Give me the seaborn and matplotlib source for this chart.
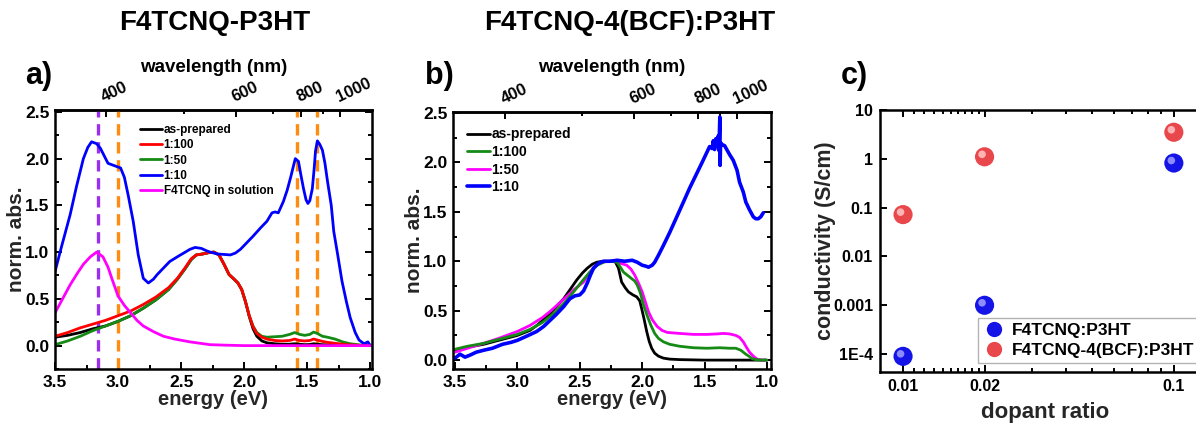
import numpy as np
import pandas as pd
import matplotlib
matplotlib.use("Agg")
import matplotlib.pyplot as plt
import matplotlib.transforms as mtransforms
from matplotlib.lines import Line2D
from matplotlib.ticker import MultipleLocator, FixedLocator, FormatStrFormatter, NullFormatter
import seaborn as sns

# ---------------- panel a: F4TCNQ-P3HT ----------------
a_blue_E = [3.50, 3.45, 3.38, 3.33, 3.275, 3.24, 3.21, 3.17, 3.14, 3.08, 3.04, 2.98, 2.95, 2.92,
            2.88, 2.84, 2.80, 2.76, 2.72, 2.69, 2.64, 2.59, 2.53, 2.48, 2.43, 2.39, 2.34, 2.30,
            2.27, 2.21, 2.16, 2.11, 2.07, 2.03, 1.98, 1.93, 1.87, 1.82, 1.78, 1.755, 1.73, 1.69,
            1.66, 1.63, 1.61, 1.595, 1.57, 1.55, 1.53, 1.51, 1.495, 1.48, 1.46, 1.445, 1.435,
            1.42, 1.40, 1.38, 1.36, 1.34, 1.31, 1.29, 1.26, 1.225, 1.19, 1.16, 1.12, 1.09, 1.05,
            1.02, 1.00]
a_blue_A = [0.79, 1.05, 1.40, 1.70, 2.00, 2.12, 2.18, 2.16, 2.11, 1.95, 1.93, 1.90, 1.80, 1.61,
            1.33, 0.97, 0.72, 0.67, 0.71, 0.76, 0.83, 0.90, 0.95, 0.99, 1.03, 1.05, 1.04, 1.015,
            1.00, 0.98, 0.975, 0.97, 0.99, 1.03, 1.10, 1.17, 1.26, 1.33, 1.42, 1.43, 1.42, 1.54,
            1.66, 1.81, 1.92, 2.00, 1.97, 1.82, 1.68, 1.56, 1.52, 1.55, 1.68, 1.90, 2.08,
            2.19, 2.15, 2.09, 1.95, 1.76, 1.50, 1.22, 0.98, 0.69, 0.47, 0.30, 0.14, 0.06, 0.02,
            0.04, 0.00]

a_film_E = [3.50, 3.40, 3.30, 3.20, 3.10, 3.00, 2.90, 2.80, 2.70, 2.60, 2.53, 2.47, 2.42, 2.38,
            2.33, 2.28, 2.24, 2.20, 2.16, 2.12, 2.08, 2.05, 2.02, 1.99, 1.96, 1.93, 1.90, 1.86,
            1.82, 1.76, 1.70, 1.64, 1.60, 1.56, 1.52, 1.48, 1.45, 1.42, 1.38, 1.34, 1.28, 1.22,
            1.16, 1.10, 1.05, 1.00]
a_black_A = [0.09, 0.11, 0.14, 0.18, 0.21, 0.26, 0.32, 0.40, 0.49, 0.60, 0.71, 0.82, 0.92, 0.97,
             0.98, 0.995, 1.00, 0.97, 0.87, 0.76, 0.71, 0.67, 0.60, 0.47, 0.31, 0.18, 0.10, 0.05,
             0.03, 0.02, 0.015, 0.015, 0.02, 0.015, 0.01, 0.012, 0.02, 0.015, 0.01, 0.008, 0.005,
             0.003, 0.002, 0.001, 0.0, 0.0]
a_red_A = [0.10, 0.14, 0.19, 0.23, 0.27, 0.32, 0.37, 0.44, 0.52, 0.62, 0.72, 0.83, 0.93, 0.97,
           0.98, 0.995, 1.00, 0.97, 0.87, 0.76, 0.71, 0.67, 0.60, 0.47, 0.32, 0.20, 0.13, 0.09,
           0.07, 0.055, 0.05, 0.055, 0.07, 0.055, 0.05, 0.055, 0.07, 0.06, 0.045, 0.035, 0.025,
           0.015, 0.008, 0.004, 0.001, 0.0]
a_green_A = [0.01, 0.05, 0.10, 0.16, 0.21, 0.26, 0.32, 0.40, 0.49, 0.60, 0.71, 0.82, 0.92, 0.97,
             0.98, 0.995, 1.00, 0.97, 0.87, 0.76, 0.71, 0.67, 0.60, 0.47, 0.32, 0.21, 0.14, 0.10,
             0.09, 0.095, 0.10, 0.12, 0.14, 0.12, 0.11, 0.12, 0.145, 0.13, 0.10, 0.09, 0.07, 0.04,
             0.02, 0.01, 0.003, 0.0]

a_sol_E = [3.50, 3.44, 3.38, 3.32, 3.275, 3.22, 3.17, 3.12, 3.08, 3.05, 3.00, 2.95, 2.90, 2.85,
           2.80, 2.72, 2.64, 2.55, 2.43, 2.35, 2.27, 2.15, 2.00, 1.80, 1.50, 1.20, 1.00]
a_sol_A = [0.35, 0.50, 0.65, 0.78, 0.87, 0.95, 1.00, 0.95, 0.84, 0.72, 0.53, 0.43, 0.35, 0.27,
           0.21, 0.15, 0.10, 0.07, 0.04, 0.025, 0.01, 0.005, 0.0, 0.0, 0.0, 0.0, 0.0]

a_guide_E = [3.16, 3.00, 1.58, 1.42]
a_guide_colors = ['#9a30ee', '#ff8c0f', '#ff8c0f', '#ff8c0f']

# ---------------- panel b: F4TCNQ-4(BCF):P3HT ----------------
b_black_E = [3.50, 3.40, 3.27, 3.15, 3.00, 2.90, 2.845, 2.79, 2.74, 2.68, 2.63, 2.58, 2.525, 2.48,
             2.44, 2.40, 2.365, 2.32, 2.285, 2.25, 2.218, 2.19, 2.165, 2.135, 2.11, 2.075, 2.044,
             2.02, 2.004, 1.984, 1.964, 1.944, 1.924, 1.90, 1.87, 1.83, 1.78, 1.70, 1.50, 1.30,
             1.10, 1.00]
b_black_A = [0.10, 0.13, 0.16, 0.20, 0.25, 0.30, 0.35, 0.41, 0.47, 0.55, 0.62, 0.71, 0.81, 0.88,
             0.93, 0.97, 0.99, 1.00, 1.00, 1.00, 1.00, 0.93, 0.79, 0.73, 0.69, 0.66, 0.64,
             0.60, 0.52, 0.41, 0.29, 0.19, 0.12, 0.07, 0.04, 0.02, 0.01, 0.005, 0.0, 0.0,
             0.0, 0.0]

b_green_E = [3.50, 3.40, 3.27, 3.15, 3.00, 2.90, 2.80, 2.70, 2.63, 2.55, 2.48, 2.42, 2.36, 2.30,
             2.25, 2.20, 2.17, 2.15, 2.12, 2.09, 2.06, 2.04, 2.015, 1.99, 1.96, 1.93, 1.90, 1.87,
             1.83, 1.78, 1.70, 1.59, 1.48, 1.38, 1.30, 1.25, 1.21, 1.17, 1.145, 1.12, 1.09, 1.05,
             1.00]
b_green_A = [0.11, 0.14, 0.17, 0.21, 0.26, 0.31, 0.38, 0.48, 0.57, 0.69, 0.80, 0.89, 0.96, 0.995,
             1.00, 0.99, 0.93, 0.89, 0.86, 0.83, 0.80, 0.76, 0.68, 0.56, 0.45, 0.35, 0.27, 0.22,
             0.185, 0.16, 0.14, 0.125, 0.12, 0.125, 0.12, 0.12, 0.10, 0.06, 0.04, 0.015, 0.005, 0.0,
             0.0]

b_pink_E = [3.50, 3.40, 3.27, 3.15, 3.00, 2.90, 2.80, 2.74, 2.67, 2.60, 2.54, 2.50, 2.47, 2.43,
            2.38, 2.33, 2.28, 2.24, 2.20, 2.15, 2.124, 2.09, 2.06, 2.03, 2.00, 1.975, 1.95, 1.92,
            1.88, 1.84, 1.80, 1.70, 1.59, 1.48, 1.40, 1.35, 1.30, 1.25, 1.22, 1.19, 1.165, 1.14,
            1.11, 1.08, 1.04, 1.01]
b_pink_A = [0.08, 0.12, 0.17, 0.22, 0.29, 0.35, 0.43, 0.49, 0.57, 0.65, 0.72, 0.76, 0.79, 0.87,
            0.95, 0.99, 1.00, 1.00, 0.99, 0.97, 0.96, 0.92, 0.86, 0.78, 0.69, 0.59, 0.49, 0.41,
            0.34, 0.30, 0.28, 0.27, 0.26, 0.26, 0.265, 0.27, 0.265, 0.25, 0.23, 0.185, 0.13, 0.08,
            0.04, 0.01, 0.0, 0.0]

b_blue_E = [3.50, 3.46, 3.42, 3.38, 3.33, 3.27, 3.20, 3.12, 3.05, 3.00, 2.93, 2.845, 2.79, 2.74,
            2.69, 2.63, 2.58, 2.54, 2.50, 2.47, 2.44, 2.415, 2.39, 2.35, 2.31, 2.26, 2.20, 2.14,
            2.08, 2.04, 2.00, 1.97, 1.95, 1.92, 1.90, 1.87, 1.83, 1.78, 1.73, 1.68, 1.62, 1.57,
            1.52, 1.49, 1.46, 1.44, 1.43, 1.42, 1.41, 1.40, 1.39, 1.385, 1.378, 1.376, 1.372,
            1.36, 1.34, 1.30, 1.27, 1.24, 1.22, 1.19, 1.17, 1.14, 1.11, 1.09, 1.07, 1.05, 1.03]
b_blue_A = [0.02, 0.06, 0.03, 0.05, 0.08, 0.10, 0.12, 0.16, 0.18, 0.20, 0.24, 0.29, 0.34, 0.40,
            0.46, 0.54, 0.62, 0.65, 0.66, 0.70, 0.78, 0.86, 0.93, 0.98, 1.00, 1.00, 1.01, 1.00,
            1.01, 0.99, 0.96, 0.95, 0.94, 0.96, 0.99, 1.06, 1.16, 1.29, 1.43, 1.57, 1.74, 1.87,
            2.00, 2.08, 2.16, 2.14, 2.22, 2.13, 2.24, 2.17, 2.27, 2.12, 2.46, 1.97, 2.20,
            2.18, 2.17, 2.08, 2.02, 1.92, 1.80, 1.70, 1.60, 1.52, 1.45, 1.43, 1.43, 1.45, 1.49]

# ---------------- panel c: conductivity ----------------
c_ratio = [0.01, 0.02, 0.1]
c_sigma_f4 = [9.0e-5, 1.0e-3, 0.82]
c_sigma_bcf = [0.072, 1.1, 3.5]
c_yticks = [1e-4, 1e-3, 1e-2, 1e-1, 1, 10]
c_ylabels = ['1E-4', '0.001', '0.01', '0.1', '1', '10']
c_xticks = [0.01, 0.02, 0.1]
c_xlabels = ['0.01', '0.02', '0.1']

wl_ticks = [400, 600, 800, 1000]
wl_minor = [500, 700, 900]

# ---------------- style ----------------
sns.set_theme(style="ticks")
plt.rcParams['font.family'] = ['Liberation Sans', 'DejaVu Sans']
plt.rcParams['font.weight'] = 'bold'
plt.rcParams['axes.labelweight'] = 'bold'
plt.rcParams['axes.linewidth'] = 1.8
plt.rcParams['axes.edgecolor'] = 'black'
plt.rcParams['text.color'] = 'black'
plt.rcParams['xtick.color'] = 'black'
plt.rcParams['ytick.color'] = 'black'

W, H = 1196, 425
fig = plt.figure(figsize=(W / 100, H / 100), dpi=100)


def px_axes(left, top, right, bottom):
    return fig.add_axes([left / W, 1 - bottom / H, (right - left) / W, (bottom - top) / H])


def e2nm(x):
    x = np.asarray(x, dtype=float)
    with np.errstate(divide='ignore', invalid='ignore'):
        return 1239.84 / x


def curve(ax, E, A, color, label, lw=2.0):
    df = pd.DataFrame({'energy': E, 'absorb': A})
    sns.lineplot(data=df, x='energy', y='absorb', color=color, linewidth=lw,
                 sort=False, estimator=None, label=label, ax=ax, legend=False)


def style_spectrum(ax, xlim, ylim):
    ax.set_xlim(*xlim)
    ax.set_ylim(*ylim)
    ax.xaxis.set_major_locator(MultipleLocator(0.5))
    ax.xaxis.set_minor_locator(MultipleLocator(0.25))
    ax.yaxis.set_major_locator(MultipleLocator(0.5))
    ax.yaxis.set_minor_locator(MultipleLocator(0.25))
    ax.xaxis.set_major_formatter(FormatStrFormatter('%.1f'))
    ax.yaxis.set_major_formatter(FormatStrFormatter('%.1f'))
    ax.tick_params(which='both', direction='in', right=True, top=False, width=1.4, labelsize=12.5)
    ax.tick_params(which='major', length=5, pad=4)
    ax.tick_params(which='minor', length=3)
    ax.set_xlabel('energy (eV)', fontsize=14.5, labelpad=0)
    ax.set_ylabel('norm. abs.', fontsize=15, labelpad=-1)
    sec = ax.secondary_xaxis('top', functions=(e2nm, e2nm))
    sec.set_xticks(wl_ticks)
    sec.xaxis.set_minor_locator(FixedLocator(wl_minor))
    sec.xaxis.set_minor_formatter(NullFormatter())
    sec.tick_params(which='both', direction='in', width=1.4, labelsize=12, pad=4)
    sec.tick_params(which='major', length=5)
    sec.tick_params(which='minor', length=3)
    plt.setp(sec.get_xticklabels(), rotation=25, ha='left', rotation_mode='anchor')
    # axis title of the wavelength scale, placed above the rotated tick labels
    pos = ax.get_position()
    fig.text(pos.x0 + pos.width / 2, 1 - 68 / H, 'wavelength (nm)', ha='center', va='center',
             fontsize=13.5)
    return sec


# ---------------- panel a ----------------
ax_a = px_axes(55, 110, 372, 369)
for e, col in zip(a_guide_E, a_guide_colors):
    ax_a.axvline(e, color=col, lw=2.4, ls=(0, (3.4, 2.0)), zorder=1)
curve(ax_a, a_film_E, a_black_A, 'black', 'as-prepared')
curve(ax_a, a_film_E, a_green_A, '#158a15', '1:50')
curve(ax_a, a_film_E, a_red_A, '#ff0000', '1:100')
curve(ax_a, a_blue_E, a_blue_A, '#0000ff', '1:10')
curve(ax_a, a_sol_E, a_sol_A, '#ff00ff', 'F4TCNQ in solution')
style_spectrum(ax_a, (3.5, 0.987), (-0.25, 2.52))
h = {l.get_label(): l for l in ax_a.get_lines()}
order = ['as-prepared', '1:100', '1:50', '1:10', 'F4TCNQ in solution']
ax_a.legend([h[k] for k in order], order, loc='upper left', bbox_to_anchor=(0.268, 0.945),
            frameon=False, fontsize=8.5, handlelength=1.9, handletextpad=0.1,
            labelspacing=0.27, borderpad=0, borderaxespad=0)

# ---------------- panel b ----------------
ax_b = px_axes(453, 112, 771, 369)
curve(ax_b, b_black_E, b_black_A, 'black', 'as-prepared')
curve(ax_b, b_pink_E, b_pink_A, '#ff00ff', '1:50')
curve(ax_b, b_green_E, b_green_A, '#158a15', '1:100')
curve(ax_b, b_blue_E, b_blue_A, '#0000ff', '1:10', lw=2.6)
style_spectrum(ax_b, (3.516, 0.968), (-0.09, 2.51))
h = {l.get_label(): l for l in ax_b.get_lines()}
order = ['as-prepared', '1:100', '1:50', '1:10']
ax_b.legend([h[k] for k in order], order, loc='upper left', bbox_to_anchor=(0.044, 0.94),
            frameon=False, fontsize=10, handlelength=1.65, handletextpad=0.1,
            labelspacing=0.26, borderpad=0, borderaxespad=0)

# ---------------- panel c ----------------
ax_c = px_axes(880, 110, 1210, 372)
ax_c.set_xscale('log')
ax_c.set_yscale('log')
cdf = pd.DataFrame({'ratio': c_ratio * 2,
                    'sigma': c_sigma_f4 + c_sigma_bcf,
                    'sample': ['F4TCNQ:P3HT'] * 3 + ['F4TCNQ-4(BCF):P3HT'] * 3})
sns.scatterplot(data=cdf, x='ratio', y='sigma', hue='sample',
                palette={'F4TCNQ:P3HT': '#1414e6', 'F4TCNQ-4(BCF):P3HT': '#e8474c'},
                s=190, edgecolor='none', legend=False, ax=ax_c, zorder=3)
shine = mtransforms.offset_copy(ax_c.transData, fig=fig, x=-2.5, y=2.5, units='dots')
ax_c.scatter(c_ratio, c_sigma_f4, s=30, color='#8c8cff', edgecolor='none', transform=shine, zorder=4)
ax_c.scatter(c_ratio, c_sigma_bcf, s=30, color='#ffb3b5', edgecolor='none', transform=shine, zorder=4)
ax_c.set_xlim(0.00822, 0.136)
ax_c.set_ylim(4.3e-5, 10)
ax_c.set_xticks(c_xticks, c_xlabels)
minor_x = [0.011, 0.012, 0.013, 0.014, 0.015, 0.016, 0.017, 0.018, 0.019,
           0.03, 0.04, 0.05, 0.06, 0.07, 0.08, 0.09]
ax_c.xaxis.set_minor_locator(FixedLocator(minor_x))
ax_c.xaxis.set_minor_formatter(NullFormatter())
ax_c.set_yticks(c_yticks, c_ylabels)
ax_c.yaxis.set_minor_locator(FixedLocator([]))
ax_c.tick_params(which='both', direction='in', top=True, right=True, width=1.4, labelsize=11.5)
ax_c.tick_params(which='major', length=5, pad=5)
ax_c.tick_params(which='minor', length=3)
ax_c.set_xlabel('dopant ratio', fontsize=16, labelpad=6)
ax_c.set_ylabel('conductivity (S/cm)', fontsize=15.5, labelpad=-2)
leg_handles = [Line2D([], [], ls='none', marker='o', ms=11, mfc='#1414e6', mec='none'),
               Line2D([], [], ls='none', marker='o', ms=11, mfc='#e8474c', mec='none')]
leg = ax_c.legend(leg_handles, ['F4TCNQ:P3HT', 'F4TCNQ-4(BCF):P3HT'], loc='upper left',
                  bbox_to_anchor=(978 / W, 1 - 318 / H), bbox_transform=fig.transFigure,
                  fontsize=12.5, frameon=True, fancybox=False, edgecolor='#a0a0a0',
                  handlelength=1.2, handletextpad=0.45, labelspacing=0.25,
                  borderpad=0.3, borderaxespad=0)
leg.get_frame().set_linewidth(1.0)

# ---------------- titles and panel letters ----------------
fig.text(215 / W, 1 - 23 / H, 'F4TCNQ-P3HT', ha='center', va='center', fontsize=20)
fig.text(630 / W, 1 - 23 / H, 'F4TCNQ-4(BCF):P3HT', ha='center', va='center', fontsize=20)
for x, lab in [(25, 'a)'), (425, 'b)'), (841, 'c)')]:
    fig.text(x / W, 1 - 76 / H, lab, ha='left', va='center', fontsize=22)

fig.savefig('out.png', dpi=100)
